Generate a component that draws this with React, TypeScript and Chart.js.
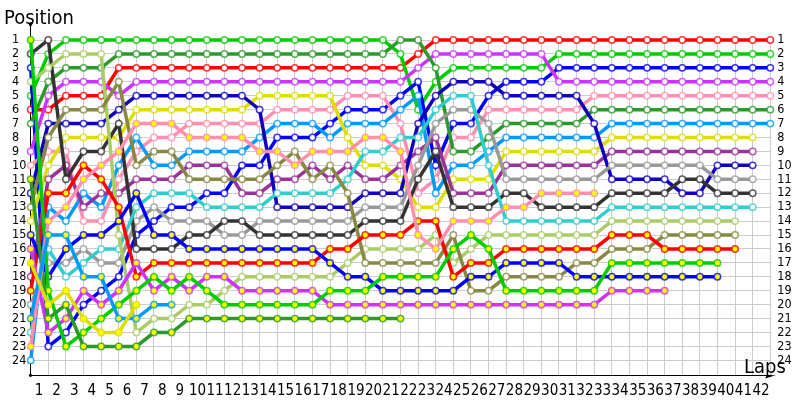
import React, { useEffect, useRef } from "react";
import { Chart, registerables } from "chart.js";

Chart.register(...registerables);

const lapLabels = ["1","2","3","4","5","6","7","8","9","10","11","12","13","14","15","16","17","18","19","20","21","22","23","24","25","26","27","28","29","30","31","32","33","34","35","36","37","38","39","40","41","42",""];
const positionTicks = [1,2,3,4,5,6,7,8,9,10,11,12,13,14,15,16,17,18,19,20,21,22,23,24];

const redWhite = [6,6,5,5,5,3,3,3,3,3,3,3,3,3,3,3,3,3,3,3,3,3,2,1,1,1,1,1,1,1,1,1,1,1,1,1,1,1,1,1,1,1,1];
const greenWhite = [5,2,1,1,1,1,1,1,1,1,1,1,1,1,1,1,1,1,1,1,1,2,6,4,3,3,3,3,3,3,2,2,2,2,2,2,2,2,2,2,2,2,2];
const blueWhite = [3,23,22,20,19,18,15,14,13,13,12,12,10,10,8,8,8,7,6,6,6,5,4,10,7,7,5,4,4,4,3,3,3,3,3,3,3,3,3,3,3,3,3];
const magentaWhite = [9,5,4,4,4,5,4,4,4,4,4,4,4,4,4,4,4,4,4,4,4,4,3,2,2,2,2,2,2,2,4,4,4,4,4,4,4,4,4,4,4,4,4];
const pinkWhite = [10,9,9,14,14,11,9,8,8,7,7,7,7,7,6,6,6,6,5,5,5,7,12,11,8,8,6,6,6,6,6,6,5,5,5,5,5,5,5,5,5,5,5];
const darkGreenWhite = [7,4,3,3,3,2,2,2,2,2,2,2,2,2,2,2,2,2,2,2,2,1,1,3,9,9,8,7,7,7,7,7,6,6,6,6,6,6,6,6,6,6,6];
const skyWhite = [24,13,14,12,13,10,8,10,10,9,9,9,9,8,7,7,7,8,7,7,7,6,5,12,10,10,9,8,8,8,8,8,8,7,7,7,7,7,7,7,7,7,7];
const yellowWhite = [14,10,8,8,8,8,6,6,6,6,6,6,6,5,5,5,5,5,8,10,10,11,13,13,11,11,11,9,9,9,9,9,9,8,8,8,8,8,8,8,8,8];
const purpleWhite = [18,11,10,13,12,12,11,11,11,10,10,10,12,12,11,11,10,11,10,11,11,10,9,8,12,12,12,10,10,10,10,10,10,9,9,9,9,9,9,9,9,9];
const navyWhite = [12,7,7,7,7,6,5,5,5,5,5,5,5,6,13,13,13,13,13,12,12,12,7,5,4,4,4,5,5,5,5,5,7,11,11,11,11,12,12,10,10,10];
const grayWhite = [20,17,17,16,17,17,14,13,14,14,14,15,15,14,14,14,14,14,14,13,13,13,10,7,6,6,7,11,11,11,11,11,11,10,10,10,10,10,10,11,11,11];
const darkWhite = [2,1,11,9,9,7,16,16,16,15,15,14,14,15,15,15,15,15,15,14,14,14,11,9,13,13,13,12,12,13,13,13,13,12,12,12,12,11,11,12,12,12];
const tealWhite = [22,16,18,17,16,16,13,12,12,12,13,13,13,13,12,12,12,12,11,9,9,8,8,6,5,5,10,14,14,14,14,14,14,13,13,13,13,13,13,13,13,13];
const limeWhite = [4,3,2,2,2,15,22,21,21,20,20,19,18,18,18,18,18,18,17,16,16,16,16,15,17,16,15,15,15,15,15,15,15,14,14,14,14,14,14,14,14];
const oliveWhite = [13,8,6,6,6,4,10,9,9,11,11,11,11,11,10,9,11,10,12,17,17,17,17,17,15,19,19,18,18,18,18,17,17,16,16,16,15,15,15,15,15];
const redYellow = [19,12,12,10,11,13,18,17,17,17,17,17,17,17,17,17,17,16,16,15,15,15,14,14,18,17,17,16,16,16,16,16,16,15,15,15,16,16,16,16,16];
const greenYellow = [1,19,23,22,21,20,19,18,19,18,19,20,20,20,20,20,20,19,19,19,18,18,18,18,16,15,16,19,19,19,19,19,19,17,17,17,17,17,17,17];
const blueYellow = [15,18,16,15,15,14,12,15,15,16,16,16,16,16,16,16,16,17,18,18,19,19,19,19,19,18,18,17,17,17,17,18,18,18,18,18,18,18,18,18];
const magentaYellow = [16,22,21,19,20,19,17,19,18,19,18,18,19,19,19,19,19,20,20,20,20,20,20,20,20,20,20,20,20,20,20,20,20,19,19,19,19];
const pinkYellow = [23,14,13,11,10,9,7,7,7,8,8,8,8,9,9,10,9,9,9,8,8,9,15,16,14,14,14,13,13,12,12,12,12];
const skyYellow = [21,15,15,18,18,21,21,20,20];
const darkGreenYellow = [11,21,20,23,23,23,23,22,22,21,21,21,21,21,21,21,21,21,21,21,21,21];
const yellowYellow = [17,20,19,21,22,22,20];

const RED = "#ff0000", GREEN = "#00cc00", BLUE = "#0000ff", MAGENTA = "#cc33ff", PINK = "#ff8fb0",
  DKGREEN = "#2b9a2b", SKY = "#0099ff", YELLOW = "#dddd00", PURPLE = "#993399", NAVY = "#1100bb",
  GRAY = "#999999", DARK = "#333333", TEAL = "#33cccc", LIME = "#aacc66", OLIVE = "#888844";
const FONT = '"DejaVu Sans Condensed", "Noto Sans", sans-serif';

// first entry is drawn on top
const seriesTable: [string, number[], string, string][] = [
  ["Yellow Y", yellowYellow, YELLOW, "#ffff00"],
  ["Sky Y", skyYellow, SKY, "#ffff00"],
  ["Pink Y", pinkYellow, PINK, "#ffff00"],
  ["Dark Green Y", darkGreenYellow, DKGREEN, "#ffff00"],
  ["Green Y", greenYellow, GREEN, "#ffff00"],
  ["Magenta Y", magentaYellow, MAGENTA, "#ffff00"],
  ["Blue Y", blueYellow, BLUE, "#ffff00"],
  ["Red Y", redYellow, RED, "#ffff00"],
  ["Olive", oliveWhite, OLIVE, "#ffffff"],
  ["Lime", limeWhite, LIME, "#ffffff"],
  ["Teal", tealWhite, TEAL, "#ffffff"],
  ["Dark", darkWhite, DARK, "#ffffff"],
  ["Gray", grayWhite, GRAY, "#ffffff"],
  ["Navy", navyWhite, NAVY, "#ffffff"],
  ["Purple", purpleWhite, PURPLE, "#ffffff"],
  ["Yellow", yellowWhite, YELLOW, "#ffffff"],
  ["Sky", skyWhite, SKY, "#ffffff"],
  ["Dark Green", darkGreenWhite, DKGREEN, "#ffffff"],
  ["Pink", pinkWhite, PINK, "#ffffff"],
  ["Magenta", magentaWhite, MAGENTA, "#ffffff"],
  ["Blue", blueWhite, BLUE, "#ffffff"],
  ["Green", greenWhite, GREEN, "#ffffff"],
  ["Red", redWhite, RED, "#ffffff"],
];

const axisDecor = {
  id: "axisDecor",
  afterDraw(chart: any) {
    const { ctx, chartArea: a } = chart;
    ctx.save();
    ctx.strokeStyle = "#000";
    ctx.fillStyle = "#000";
    ctx.lineWidth = 1;
    ctx.beginPath();
    ctx.moveTo(a.left - 0.2, 26);
    ctx.lineTo(a.left - 0.2, 36);
    ctx.moveTo(a.right, a.bottom);
    ctx.lineTo(772, a.bottom);
    ctx.stroke();
    ctx.beginPath();
    ctx.moveTo(28, 23);
    ctx.lineTo(33, 23);
    ctx.lineTo(30.5, 27.5);
    ctx.closePath();
    ctx.fill();
    ctx.beginPath();
    ctx.moveTo(776, 375.3);
    ctx.lineTo(765, 378.5);
    ctx.lineTo(767, 375.3);
    ctx.closePath();
    ctx.fill();
    ctx.beginPath();
    ctx.arc(30.5, 375.3, 1.6, 0, Math.PI * 2);
    ctx.fill();
    ctx.font = `20px ${FONT}`;
    ctx.textBaseline = "alphabetic";
    ctx.textAlign = "left";
    ctx.fillText("Position", 4, 24);
    ctx.fillText("Laps", 744, 373);
    ctx.restore();
  },
};

const pinTicks = (scale: any) => {
  scale.ticks = positionTicks.map((value) => ({ value }));
};

export default function App() {
  const ref = useRef<HTMLCanvasElement>(null);
  useEffect(() => {
    const chart = new Chart(ref.current!, {
      type: "line",
      data: {
        labels: lapLabels,
        datasets: seriesTable.map(([label, data, color, fill]) => ({
          label,
          data,
          borderColor: color,
          borderWidth: 3.5,
          tension: 0,
          clip: false,
          pointRadius: 3.2,
          pointBorderWidth: 1.5,
          pointBorderColor: color + "c8",
          pointBackgroundColor: fill,
          yAxisID: "y",
        })),
      },
      options: {
        animation: false,
        responsive: false,
        layout: { padding: { top: 40, left: 12, right: 0, bottom: 0 } },
        plugins: { legend: { display: false }, tooltip: { enabled: false } },
        scales: {
          x: {
            type: "category",
            offset: false,
            grid: { color: "#cccccc", drawTicks: false },
            border: { color: "#000000" },
            afterFit: (s: any) => { s.height = 24.7; },
            ticks: {
              autoSkip: false,
              maxRotation: 0,
              minRotation: 0,
              labelOffset: 8.3,
              padding: 7,
              color: "#000",
              font: { family: FONT, size: 15 },
            },
          },
          y: {
            type: "linear",
            reverse: true,
            min: 1,
            max: 25.07,
            position: "left",
            afterBuildTicks: pinTicks,
            afterFit: (s: any) => { s.width = 18.7; },
            grid: { color: "#cccccc", drawTicks: false },
            border: { color: "#000000" },
            ticks: { autoSkip: false, crossAlign: "far", color: "#000", padding: 0, font: { family: FONT, size: 12.5 } },
          },
          y2: {
            type: "linear",
            reverse: true,
            min: 1,
            max: 25.07,
            position: "right",
            afterBuildTicks: pinTicks,
            afterFit: (s: any) => { s.width = 29.7; },
            grid: { display: false, drawTicks: false },
            border: { display: false },
            ticks: { autoSkip: false, crossAlign: "near", color: "#000", padding: 7, font: { family: FONT, size: 12.5 } },
          },
        },
      },
      plugins: [axisDecor],
    } as any);
    return () => chart.destroy();
  }, []);
  return (
    <div style={{ position: "fixed", left: 0, top: 0, width: 800, height: 400, background: "#fff" }}>
      <canvas ref={ref} width={800} height={400} style={{ display: "block" }} />
    </div>
  );
}
